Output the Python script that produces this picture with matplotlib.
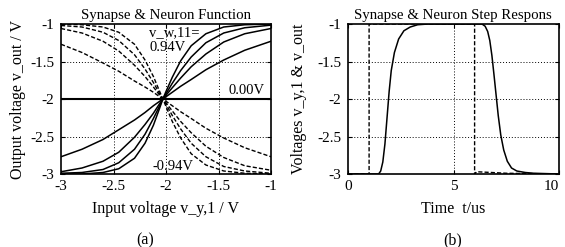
import matplotlib
matplotlib.use("Agg")
import matplotlib.pyplot as plt

plt.rcParams['font.family'] = ['Liberation Serif', 'DejaVu Serif']
plt.rcParams['font.size'] = 11

# ---- (a) Synapse & Neuron Function ----
x_in = [-3, -2.8, -2.6, -2.45, -2.3, -2.2, -2.12, -2.06, -2.03,
        -2.0, -1.94, -1.86, -1.76, -1.62, -1.45, -1.25, -1.0]
# rising (solid) curves, steepest first
s1 = [-3.00, -3.00, -2.98, -2.93, -2.79, -2.59, -2.35, -2.12, -2.0,
      -1.90, -1.71, -1.49, -1.29, -1.13, -1.04, -1.01, -1.00]
s2 = [-2.99, -2.98, -2.94, -2.85, -2.67, -2.47, -2.26, -2.09, -2.0,
      -1.93, -1.79, -1.62, -1.44, -1.25, -1.12, -1.05, -1.015]
s3 = [-2.97, -2.92, -2.83, -2.71, -2.51, -2.34, -2.19, -2.06, -2.0,
      -1.95, -1.85, -1.72, -1.57, -1.40, -1.24, -1.13, -1.06]
s4 = [-2.77, -2.67, -2.54, -2.41, -2.28, -2.18, -2.09, -2.03, -2.0,
      -1.97, -1.91, -1.83, -1.74, -1.61, -1.48, -1.35, -1.23]
# falling (dashed) curves, steepest first
d1 = [-1.00, -1.01, -1.04, -1.11, -1.27, -1.48, -1.70, -1.90, -2.0,
      -2.10, -2.30, -2.52, -2.73, -2.88, -2.96, -2.99, -3.00]
d2 = [-1.02, -1.04, -1.11, -1.22, -1.41, -1.60, -1.78, -1.93, -2.0,
      -2.07, -2.22, -2.40, -2.59, -2.77, -2.90, -2.96, -2.99]
d3 = [-1.06, -1.12, -1.23, -1.36, -1.55, -1.70, -1.84, -1.95, -2.0,
      -2.05, -2.16, -2.30, -2.45, -2.63, -2.78, -2.89, -2.95]
d4 = [-1.27, -1.38, -1.52, -1.63, -1.76, -1.84, -1.91, -1.97, -2.0,
      -2.03, -2.09, -2.17, -2.26, -2.39, -2.52, -2.65, -2.77]
zero_x = [-3, -1]
zero_y = [-2, -2]

xa_ticks = [-3, -2.5, -2, -1.5, -1]
xa_labels = ['-3', '-2.5', '-2', '-1.5', '-1']
ya_ticks = [-3, -2.5, -2, -1.5, -1]
ya_labels = ['-3', '-2.5', '-2', '-1.5', '-1']

# ---- (b) Step response ----
t_in = [0, 1, 1, 6, 6, 6.1, 7.5, 10]
v_in = [-3, -3, -1, -1, -3, -2.97, -2.99, -3]
t_out = [0, 1.45, 1.55, 1.65, 1.75, 1.85, 1.95, 2.05, 2.2, 2.4, 2.65, 2.95,
         3.3, 3.8, 6.35, 6.5, 6.62, 6.72, 6.82, 6.92, 7.02, 7.12, 7.24, 7.38,
         7.55, 7.75, 8.0, 8.4, 8.8, 10]
v_out = [-3, -3, -2.96, -2.84, -2.6, -2.25, -1.9, -1.62, -1.38, -1.2, -1.09,
         -1.04, -1.01, -1.0, -1.0, -1.03, -1.1, -1.22, -1.42, -1.68, -1.95,
         -2.22, -2.48, -2.68, -2.83, -2.92, -2.96, -2.98, -2.99, -3]
xb_ticks = [0, 5, 10]
xb_labels = ['0', '5', '10']

W, H = 565, 247
fig = plt.figure(figsize=(W / 100, H / 100), dpi=100)

def box(l, t, r, b):
    return [l / W, 1 - b / H, (r - l) / W, (b - t) / H]

axa = fig.add_axes(box(61, 24, 271, 174))
axb = fig.add_axes(box(348, 24, 559, 174))

grid_kw = dict(color='black', linestyle=(0, (1, 2)), linewidth=0.7)

for v in [-2.5, -2, -1.5]:
    axa.axvline(v, **grid_kw, zorder=1)
    axa.axhline(v, **grid_kw, zorder=1)
for s in [s1, s2, s3, s4]:
    axa.plot(x_in, s, color='black', linewidth=1.1, zorder=3)
for d in [d1, d2, d3, d4]:
    axa.plot(x_in, d, color='black', linewidth=1.0, linestyle=(0, (3, 1.5)), zorder=3)
axa.plot(zero_x, zero_y, color='black', linewidth=1.5, zorder=3)
axa.set_xlim(-3, -1)
axa.set_ylim(-3, -1)
axa.set_xticks(xa_ticks)
axa.set_xticklabels(xa_labels)
axa.set_yticks(ya_ticks)
axa.set_yticklabels(ya_labels)
axa.text(-1.92, -1.11, 'v_w,11=', ha='center', va='center', fontsize=10.5)
axa.text(-1.98, -1.31, '0.94V', ha='center', va='center', fontsize=10.5)
axa.text(-1.23, -1.89, '0.00V', ha='center', va='center', fontsize=10.5)
axa.text(-1.93, -2.9, '-0.94V', ha='center', va='center', fontsize=10.5)
axa.set_xlabel('Input voltage v_y,1 / V', fontsize=11.5, labelpad=6)
axa.set_ylabel('Output voltage v_out / V', fontsize=11.5, labelpad=3)

for v in [-2.5, -2, -1.5]:
    axb.axhline(v, **grid_kw, zorder=1)
axb.axvline(5, **grid_kw, zorder=1)
axb.plot(t_in, v_in, color='black', linewidth=1.0, linestyle=(0, (3, 1.5)), zorder=3)
axb.plot(t_out, v_out, color='black', linewidth=1.1, zorder=3)
axb.set_xlim(0, 10)
axb.set_ylim(-3, -1)
axb.set_xticks(xb_ticks)
axb.set_xticklabels(xb_labels)
axb.set_yticks(ya_ticks)
axb.set_yticklabels(ya_labels)
axb.set_xlabel('Time  t/us', fontsize=11.5, labelpad=6)
axb.set_ylabel('Voltages v_y,1 & v_out', fontsize=11.5, labelpad=7)

for ax in (axa, axb):
    ax.tick_params(direction='in', length=3, width=0.8, top=True, right=True, pad=5,
                   labelsize=11)
    ax.tick_params(axis='x', pad=4)
    for sp in ax.spines.values():
        sp.set_linewidth(1.2)

# keep the last tick label of (b) inside the figure
axb.get_xticklabels()[-1].set_horizontalalignment('right')

fig.text(166 / W, 1 - 16 / H, 'Synapse & Neuron Function', ha='center', va='center', fontsize=10.7)
fig.text(453 / W, 1 - 16 / H, 'Synapse & Neuron Step Respons', ha='center', va='center', fontsize=10.7)
fig.text(145 / W, 1 - 240 / H, '(a)', ha='center', va='center', fontsize=11.5)
fig.text(453 / W, 1 - 240 / H, '(b)', ha='center', va='center', fontsize=11.5)

fig.savefig('out.png', dpi=100)
